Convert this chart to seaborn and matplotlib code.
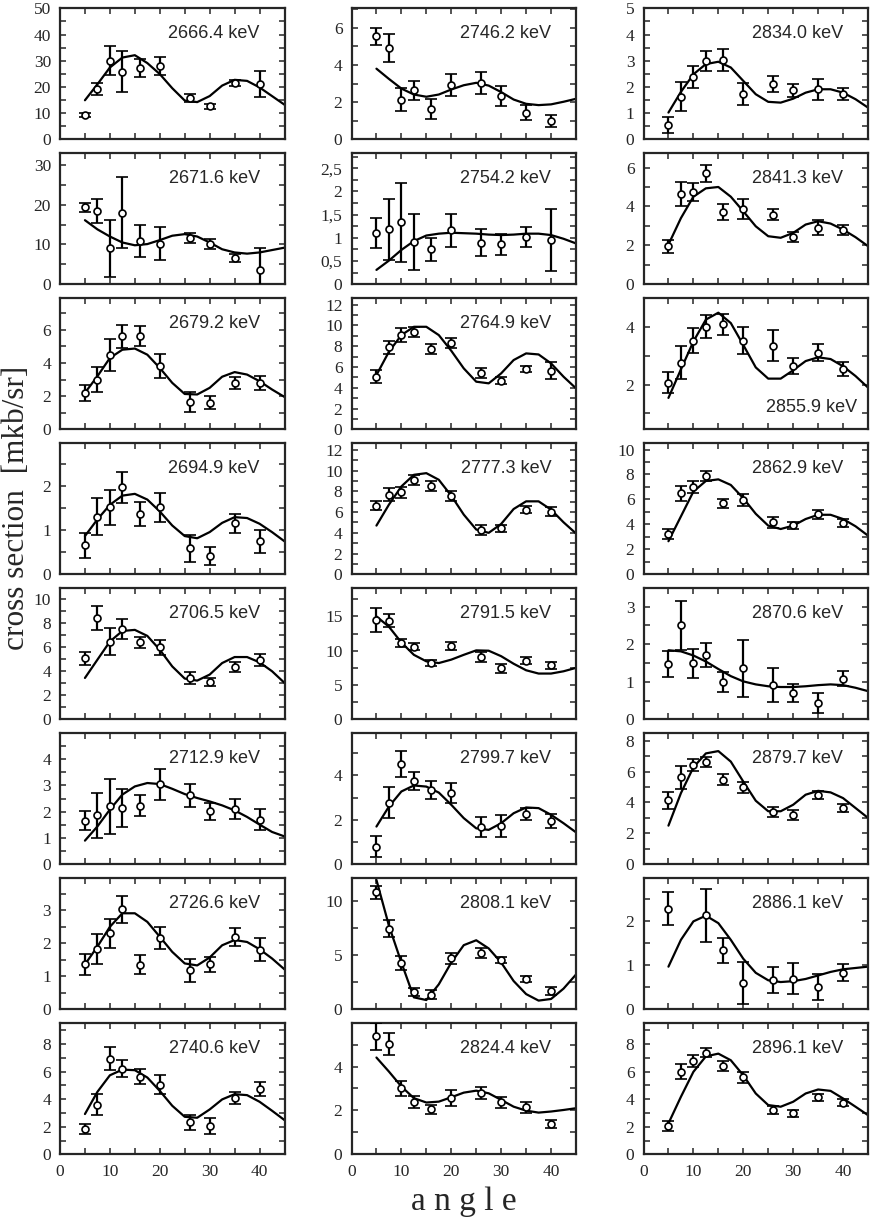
import numpy as np
import matplotlib
matplotlib.use("Agg")
import matplotlib.pyplot as plt
import seaborn as sns
from matplotlib.ticker import MultipleLocator, AutoMinorLocator, FuncFormatter

sns.set_style("ticks")
plt.rcParams['font.family'] = ['Liberation Serif', 'DejaVu Serif']

angles = [5, 7.5, 10, 12.5, 16, 20, 26, 30, 35, 40]
fit_angles = [5, 7.5, 10, 12.5, 15, 17.5, 20, 22.5, 25, 27.5, 30, 32.5, 35, 37.5, 40, 42.5, 45]

energies = ["2666.4", "2671.6", "2679.2", "2694.9", "2706.5", "2712.9", "2726.6", "2740.6",
            "2746.2", "2754.2", "2764.9", "2777.3", "2791.5", "2799.7", "2808.1", "2824.4",
            "2834.0", "2841.3", "2855.9", "2862.9", "2870.6", "2879.7", "2886.1", "2896.1"]

nan = np.nan
cross_section = [
    [9.2, 19.1, 30.0, 25.8, 27.2, 28.0, 15.7, 12.6, 21.5, 21.0],
    [19.3, 18.4, 9.0, 18.0, 10.9, 10.2, 11.6, 10.1, 6.7, 3.7],
    [2.2, 3.0, 4.5, 5.6, 5.6, 3.8, 1.65, 1.6, 2.8, 2.8],
    [0.66, 1.31, 1.52, 1.98, 1.37, 1.52, 0.59, 0.42, 1.16, 0.75],
    [5.07, 8.46, 6.47, 7.52, 6.4, 6.0, 3.44, 3.09, 4.35, 4.9],
    [1.66, 1.86, 2.2, 2.13, 2.23, 3.05, 2.62, 2.01, 2.1, 1.7],
    [1.36, 1.82, 2.3, 3.03, 1.35, 2.16, 1.18, 1.36, 2.19, 1.81],
    [1.81, 3.61, 6.94, 6.22, 5.61, 5.06, 2.31, 2.07, 4.1, 4.72],
    [5.54, 4.91, 2.14, 2.64, 1.64, 2.91, 3.04, 2.34, 1.43, 0.98],
    [1.11, 1.18, 1.34, 0.91, 0.75, 1.16, 0.89, 0.86, 1.02, 0.96],
    [5.06, 7.87, 9.06, 9.38, 7.71, 8.26, 5.44, 4.67, 5.79, 5.63],
    [6.62, 7.68, 7.9, 9.12, 8.48, 7.58, 4.32, 4.42, 6.24, 6.05],
    [14.5, 14.4, 11.1, 10.6, 8.2, 10.7, 9.03, 7.44, 8.55, 7.87],
    [0.8, 2.78, 4.51, 3.76, 3.35, 3.2, 1.7, 1.73, 2.27, 1.95],
    [10.76, 7.42, 4.24, 1.58, 1.36, 4.7, 5.21, 4.55, 2.82, 1.67],
    [5.37, 5.03, 3.01, 2.37, 2.05, 2.56, 2.78, 2.37, 2.14, 1.38],
    [0.55, 1.62, 2.38, 2.99, 3.03, 1.73, 2.1, 1.87, 1.91, 1.72],
    [1.96, 4.63, 4.74, 5.71, 3.71, 3.88, 3.58, 2.45, 2.9, 2.78],
    [2.07, 2.77, 3.53, 4.02, 4.1, 3.53, 3.36, 2.64, 3.11, 2.54],
    [3.24, 6.5, 7.03, 7.88, 5.7, 5.97, 4.16, 3.95, 4.83, 4.11],
    [1.47, 2.5, 1.49, 1.72, 0.99, 1.36, 0.92, 0.71, 0.44, 1.08],
    [4.13, 5.63, 6.43, 6.6, 5.46, 4.97, 3.38, 3.21, 4.5, 3.64],
    [2.29, nan, nan, 2.14, 1.34, 0.6, 0.66, 0.7, 0.51, 0.83],
    [2.07, 5.98, 6.75, 7.35, 6.39, 5.59, 3.2, 2.96, 4.12, 3.73],
]

errors = [
    [0.8, 2.3, 5.6, 7.8, 3.3, 3.6, 1.4, 1.0, 1.0, 4.9],
    [1.1, 3.0, 7.1, 9.0, 4.0, 4.1, 1.2, 1.2, 1.0, 5.4],
    [0.5, 0.78, 0.97, 0.7, 0.6, 0.72, 0.6, 0.4, 0.38, 0.43],
    [0.28, 0.42, 0.39, 0.35, 0.28, 0.32, 0.3, 0.2, 0.22, 0.26],
    [0.52, 1.0, 1.1, 0.82, 0.45, 0.63, 0.5, 0.36, 0.45, 0.5],
    [0.37, 0.85, 1.05, 0.72, 0.41, 0.59, 0.44, 0.32, 0.38, 0.41],
    [0.32, 0.46, 0.44, 0.4, 0.29, 0.34, 0.35, 0.23, 0.28, 0.34],
    [0.36, 0.75, 0.83, 0.63, 0.54, 0.69, 0.54, 0.57, 0.45, 0.52],
    [0.46, 0.76, 0.63, 0.51, 0.54, 0.58, 0.58, 0.55, 0.39, 0.31],
    [0.32, 0.65, 0.85, 0.6, 0.25, 0.36, 0.29, 0.22, 0.21, 0.67],
    [0.64, 0.66, 0.7, 0.5, 0.46, 0.48, 0.48, 0.32, 0.32, 0.83],
    [0.43, 0.64, 0.53, 0.48, 0.48, 0.5, 0.48, 0.32, 0.35, 0.43],
    [1.8, 1.0, 0.63, 0.53, 0.5, 0.6, 0.72, 0.65, 0.5, 0.55],
    [0.48, 0.69, 0.58, 0.4, 0.42, 0.45, 0.45, 0.49, 0.26, 0.3],
    [0.6, 0.76, 0.63, 0.38, 0.38, 0.52, 0.45, 0.3, 0.27, 0.39],
    [0.62, 0.51, 0.35, 0.28, 0.2, 0.38, 0.27, 0.25, 0.25, 0.19],
    [0.3, 0.55, 0.43, 0.38, 0.42, 0.43, 0.3, 0.24, 0.4, 0.22],
    [0.34, 0.6, 0.47, 0.43, 0.42, 0.5, 0.3, 0.26, 0.38, 0.26],
    [0.36, 0.56, 0.44, 0.41, 0.37, 0.47, 0.53, 0.28, 0.3, 0.25],
    [0.4, 0.6, 0.48, 0.41, 0.37, 0.5, 0.46, 0.28, 0.36, 0.33],
    [0.34, 0.66, 0.39, 0.32, 0.26, 0.76, 0.45, 0.24, 0.26, 0.2],
    [0.57, 0.73, 0.4, 0.32, 0.36, 0.37, 0.35, 0.32, 0.26, 0.26],
    [0.38, nan, nan, 0.6, 0.29, 0.48, 0.3, 0.35, 0.3, 0.19],
    [0.35, 0.55, 0.45, 0.33, 0.36, 0.39, 0.27, 0.27, 0.23, 0.25],
]

fit = [
    [14.9, 21.0, 27.4, 31.2, 32.1, 29.1, 24.9, 19.5, 14.8, 14.2, 16.5, 20.5, 22.7, 22.3, 19.8, 16.5, 13.2],
    [16.1, 13.8, 12.0, 10.5, 9.8, 10.1, 11.1, 12.2, 12.6, 12.0, 10.5, 8.8, 8.0, 7.7, 8.0, 8.6, 9.2],
    [2.2, 3.2, 4.3, 4.8, 4.87, 4.5, 3.7, 2.8, 2.13, 2.1, 2.5, 3.17, 3.45, 3.3, 2.9, 2.4, 1.95],
    [0.87, 1.25, 1.58, 1.79, 1.83, 1.7, 1.43, 1.11, 0.87, 0.82, 0.96, 1.17, 1.3, 1.28, 1.15, 0.96, 0.75],
    [3.44, 4.96, 6.47, 7.35, 7.44, 6.94, 5.79, 4.4, 3.39, 3.22, 3.72, 4.68, 5.18, 5.18, 4.74, 4.0, 3.03],
    [0.9, 1.44, 2.08, 2.65, 2.96, 3.09, 3.05, 2.87, 2.67, 2.52, 2.39, 2.24, 2.05, 1.8, 1.51, 1.23, 1.06],
    [1.36, 1.9, 2.5, 2.91, 2.91, 2.65, 2.2, 1.74, 1.39, 1.33, 1.57, 1.94, 2.1, 2.04, 1.82, 1.54, 1.21],
    [2.92, 4.53, 5.73, 6.14, 6.1, 5.57, 4.6, 3.52, 2.72, 2.65, 3.25, 3.98, 4.36, 4.29, 3.81, 3.16, 2.48],
    [3.8, 3.25, 2.73, 2.41, 2.29, 2.41, 2.68, 2.91, 3.04, 2.89, 2.54, 2.14, 1.91, 1.84, 1.88, 2.02, 2.18],
    [0.31, 0.51, 0.74, 0.93, 1.05, 1.09, 1.11, 1.1, 1.09, 1.07, 1.06, 1.07, 1.09, 1.09, 1.06, 0.98, 0.88],
    [5.22, 7.46, 9.06, 9.86, 9.86, 9.06, 7.55, 5.86, 4.58, 4.42, 5.38, 6.66, 7.3, 7.2, 6.34, 5.06, 3.94],
    [4.7, 6.72, 8.48, 9.6, 9.76, 9.12, 7.58, 5.76, 4.32, 4.0, 4.86, 6.3, 7.04, 7.04, 6.24, 5.02, 3.94],
    [15.0, 13.5, 11.2, 9.4, 8.45, 8.2, 8.7, 9.4, 10.05, 10.0, 9.2, 8.1, 7.15, 6.67, 6.67, 7.0, 7.5],
    [1.7, 2.6, 3.28, 3.55, 3.5, 3.23, 2.68, 2.08, 1.62, 1.55, 1.85, 2.3, 2.56, 2.53, 2.23, 1.85, 1.44],
    [11.9, 7.7, 4.3, 1.1, 0.85, 2.3, 4.3, 5.9, 6.35, 5.6, 4.3, 2.6, 1.4, 0.8, 0.95, 1.9, 3.2],
    [4.41, 3.77, 3.09, 2.56, 2.36, 2.4, 2.6, 2.81, 2.9, 2.78, 2.48, 2.17, 1.99, 1.9, 1.95, 2.02, 2.1],
    [1.02, 1.81, 2.48, 2.87, 2.96, 2.74, 2.23, 1.72, 1.43, 1.4, 1.55, 1.78, 1.91, 1.91, 1.78, 1.53, 1.21],
    [2.04, 3.4, 4.5, 4.93, 5.0, 4.5, 3.75, 2.98, 2.47, 2.39, 2.64, 3.07, 3.24, 3.12, 2.81, 2.42, 1.96],
    [1.54, 2.53, 3.5, 4.26, 4.5, 4.14, 3.38, 2.6, 2.21, 2.21, 2.5, 2.82, 2.95, 2.89, 2.64, 2.3, 1.9],
    [2.65, 4.64, 6.63, 7.48, 7.61, 7.16, 6.1, 4.85, 3.9, 3.63, 3.9, 4.43, 4.77, 4.77, 4.43, 3.85, 3.1],
    [1.84, 1.81, 1.7, 1.54, 1.34, 1.15, 1.01, 0.93, 0.88, 0.86, 0.86, 0.88, 0.91, 0.93, 0.91, 0.84, 0.75],
    [2.5, 4.6, 6.27, 7.17, 7.32, 6.64, 5.35, 4.11, 3.43, 3.43, 3.85, 4.5, 4.75, 4.65, 4.28, 3.64, 3.0],
    [0.97, 1.58, 2.0, 2.13, 1.96, 1.58, 1.15, 0.83, 0.66, 0.62, 0.64, 0.69, 0.77, 0.85, 0.91, 0.94, 0.97],
    [2.24, 4.17, 5.98, 7.1, 7.3, 6.82, 5.73, 4.41, 3.57, 3.45, 3.81, 4.41, 4.7, 4.6, 4.05, 3.45, 2.84],
]

# axis ranges and major tick steps per panel
y_ranges = [(0, 50), (0, 32.9), (0, 7.9), (0, 2.98), (0, 10.9), (0, 4.98), (0, 3.97), (0, 9.5),
            (0, 7.05), (0, 2.82), (0, 12.6), (0, 12.64), (0, 19.1), (0, 5.9), (0, 12.05), (0, 5.97),
            (0, 5.0), (0, 6.73), (0.45, 5.0), (0, 10.5), (0, 3.49), (0, 8.47), (0, 2.98), (0, 9.5)]
y_steps = [10, 10, 2, 1, 2, 1, 1, 2,
           2, 0.5, 2, 2, 5, 2, 5, 2,
           1, 2, 2, 2, 1, 2, 1, 2]

W, H = 872, 1224
fig = plt.figure(figsize=(W / 100, H / 100), dpi=100)

col_left = [60, 351.5, 643.5]
ax_w, ax_h = 224.5, 131

comma = FuncFormatter(lambda v, p: ('%g' % v).replace('.', ','))

for i, e in enumerate(energies):
    col, row = divmod(i, 8)
    top = 8.3 + 145 * row
    ax = fig.add_axes([col_left[col] / W, 1 - (top + ax_h) / H, ax_w / W, ax_h / H])

    ax.errorbar(angles, cross_section[i], yerr=errors[i], fmt='o', ms=5,
                mfc='white', mec='black', mew=1.2, ecolor='black',
                elinewidth=1.6, capsize=4.5, capthick=1.6, zorder=3)
    sns.lineplot(x=fit_angles, y=fit[i], ax=ax, color='black', lw=1.6, zorder=2)

    ax.set_xlim(0, 45)
    ax.set_ylim(*y_ranges[i])
    ax.xaxis.set_major_locator(MultipleLocator(10))
    ax.xaxis.set_minor_locator(MultipleLocator(5))
    ax.yaxis.set_major_locator(MultipleLocator(y_steps[i]))
    ax.yaxis.set_minor_locator(AutoMinorLocator(2))
    if e == "2754.2":
        ax.yaxis.set_major_formatter(comma)
    ax.tick_params(which='both', direction='in', top=True, right=True,
                   labelsize=12.5, width=1.1)
    ax.tick_params(axis='y', pad=6.5)
    ax.tick_params(axis='x', pad=7)
    ax.tick_params(which='major', length=4.5)
    ax.tick_params(which='minor', length=4)
    if row != 7:
        ax.set_xticklabels([])
    for s in ax.spines.values():
        s.set_linewidth(1.6)
    ax.set_xlabel('')
    ax.set_ylabel('')

    if e == "2855.9":
        ax.text(0.95, 0.17, e + " keV", transform=ax.transAxes, ha='right', va='center',
                fontsize=13, family='Liberation Sans')
    else:
        ax.text(0.89, 0.81, e + " keV", transform=ax.transAxes, ha='right', va='center',
                fontsize=13, family='Liberation Sans')

fig.text(0.019, 0.585, "cross section  [mkb/sr]", rotation=90, ha='center', va='center',
         fontsize=22.5)
fig.text(0.532, 0.018, "a n g l e", ha='center', va='center', fontsize=24)

fig.savefig("out.png", dpi=100)
